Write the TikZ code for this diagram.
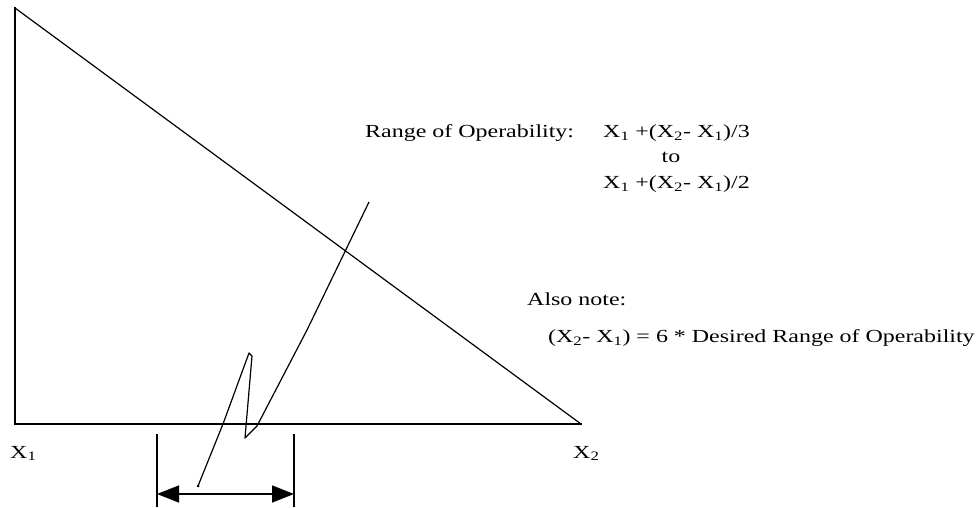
\documentclass[tikz,border=0pt]{standalone}
\usepackage{fontspec}
\setmainfont[FakeStretch=1.3]{Liberation Serif}
\usetikzlibrary{arrows.meta}
\tikzset{
  axis/.style={line width=1.7bp, line cap=rect},
  thin line/.style={line width=1.2bp},
  lbl/.style={inner sep=0pt, anchor=base west, font=\fontsize{18.5}{22}\selectfont},
  lblc/.style={inner sep=0pt, anchor=base, font=\fontsize{18.5}{22}\selectfont},
  dimarrow/.style={line width=1.5bp, {Triangle[length=22bp,width=17bp]}-{Triangle[length=22bp,width=17bp]}},
}
\newcommand{\Xa}{X\textsubscript{1}}
\newcommand{\Xb}{X\textsubscript{2}}
\begin{document}
\begin{tikzpicture}[x=1bp,y=-1bp]
\useasboundingbox (0,0) rectangle (979,508);
% triangle corners
\coordinate (top) at (15,8);
\coordinate (o) at (15,424);
\coordinate (r) at (581,424);
\draw[axis] (top) -- (o) -- (r);
\draw[thin line] (top) -- (r);
% scribbled curve
\coordinate (c0) at (198,486);
\coordinate (c1) at (223,424);
\coordinate (c2) at (249,353);
\coordinate (c3) at (252,356);
\coordinate (c4) at (245,438);
\coordinate (c5) at (257,426);
\coordinate (c6) at (307,330);
\coordinate (c7) at (369,202);
\draw[thin line, line join=round] (c0) -- (c1) -- (c2) -- (c3) -- (c4) -- (c5) -- (c6) -- (c7);
\fill (c0) circle (1.5bp);
% dimension
\coordinate (t1a) at (157,435);
\coordinate (t1b) at (157,506);
\coordinate (t2a) at (294,435);
\coordinate (t2b) at (294,506);
\draw[axis] (t1a) -- (t1b);
\draw[axis] (t2a) -- (t2b);
\coordinate (a1) at (157,494);
\coordinate (a2) at (294,494);
\draw[dimarrow] (a1) -- (a2);
% labels
\node[lbl] (x1) at (10,458) {\Xa};
\node[lbl] (x2) at (573,458) {\Xb};
\node[lbl] (roo) at (365,138) {Range of Operability:};
\node[lbl] (eq1) at (603,138) {\Xa{} +(\Xb- \Xa)/3};
\node[lblc] (to) at (671,163) {to};
\node[lbl] (eq2) at (603,189) {\Xa{} +(\Xb- \Xa)/2};
\node[lbl] (also) at (527,306) {Also note:};
\node[lbl] (note) at (548,343) {(\Xb- \Xa) = 6 * Desired Range of Operability};
\end{tikzpicture}
\end{document}
